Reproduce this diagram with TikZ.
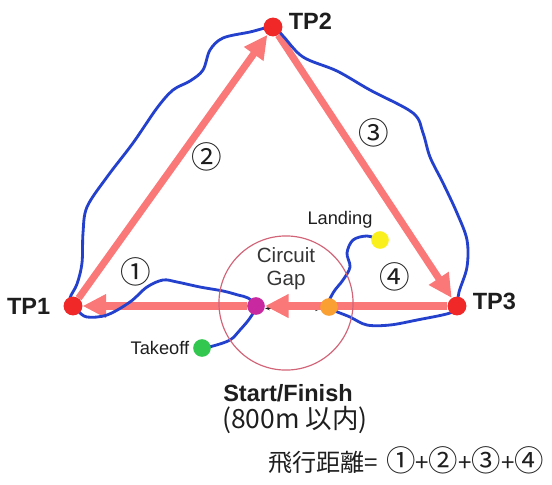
\documentclass[tikz,border=0pt]{standalone}
\usepackage{fontspec}
\setmainfont{Liberation Sans}
\newfontfamily\jpfont{Noto Sans CJK JP}
\usetikzlibrary{arrows.meta,positioning,backgrounds}
\definecolor{legpink}{RGB}{250,120,120}
\definecolor{trackblue}{RGB}{35,65,205}
\definecolor{tpred}{RGB}{240,40,40}
\definecolor{gatemag}{RGB}{200,40,160}
\definecolor{gateorange}{RGB}{250,160,50}
\definecolor{tkgreen}{RGB}{50,200,80}
\definecolor{ldyellow}{RGB}{250,240,30}
\definecolor{gapline}{RGB}{210,100,120}
\definecolor{ink}{RGB}{30,30,30}
\newcommand{\cnum}[1]{{\fontsize{25}{22}\selectfont#1}}

\begin{document}
\begin{tikzpicture}[x=0.85pt,y=-0.85pt,
		tp/.style={circle,fill=tpred,inner sep=0pt,minimum size=16pt},
		dot/.style={circle,inner sep=0pt,minimum size=15pt},
		tplabel/.style={inner sep=0pt,text=ink,font=\fontsize{20}{22}\selectfont\bfseries},
		small/.style={inner sep=0pt,text=ink,font=\fontsize{15.5}{17}\selectfont},
		num/.style={inner sep=0pt,text=ink,font=\jpfont\fontsize{26}{26}\selectfont},
		leg/.style={draw=legpink,line width=6pt,-{Triangle[length=20pt,width=19pt]}},
		track/.style={draw=trackblue,line width=2.4pt,line join=round,line cap=round}]
		\useasboundingbox (0,0) rectangle (552,484);

		\draw (286,303) node [circle,draw=gapline,line width=1pt,minimum size=114pt] (gap){};
		\draw (73,306) node [tp] (tp1){};
		\draw (273,27) node [tp] (tp2){};
		\draw (457,306) node [tp] (tp3){};
		\draw (256,306) node [dot,fill=gatemag] (start){};
		\draw (329,307) node [dot,fill=gateorange] (finish){};
		\draw (202,348) node [dot,fill=tkgreen] (takeoff){};
		\draw (380,240) node [dot,fill=ldyellow] (landing){};

		\node [tplabel,left=11pt of tp1] (tp1label){TP1};
		\node [tplabel,right=5pt of tp2,yshift=5pt] (tp2label){TP2};
		\node [tplabel,right=5pt of tp3,yshift=4pt] (tp3label){TP3};
		\node [small,left=3pt of takeoff] (takeofflabel){Takeoff};
		\draw (340,220) node [small] (landinglabel){Landing};
		\draw (286,269) node [align=center,text=ink!90,font=\fontsize{17.5}{19.5}\selectfont] (gaplabel){Circuit\\Gap};
		\draw (288,393) node [inner sep=0pt,text=ink,font=\fontsize{20}{22}\selectfont\bfseries] (sflabel){Start/Finish};
		\draw (295,420) node [inner sep=0pt,text=ink,font=\jpfont\fontsize{22.5}{24}\selectfont] (limit){(800m 以内)};

		\draw (136,272) node [num] (n1){①};
		\draw (207,157) node [num] (n2){②};
		\draw (374,133) node [num] (n3){③};
		\draw (395,277) node [num] (n4){④};
		\draw (406,460) node [num,font=\jpfont\fontsize{20.5}{22}\selectfont] (total){飛行距離=\hspace{7pt}\cnum{①}+\cnum{②}+\cnum{③}+\cnum{④}};

		\begin{scope}[on background layer]
		\draw [ink,line width=0.6pt,{Stealth[length=4pt]}-{Stealth[length=4pt]}]
			([yshift=-2pt]start.east) -- ([yshift=-2pt]finish.west);
		\draw
		(tp1) edge [leg] (tp2)
		(tp2) edge [leg] (tp3)
		(tp3) edge [leg] (start)
		(start) edge [leg] (tp1);
		\draw [track] plot [smooth,tension=0.55] coordinates {
			(takeoff) (213,346) (230,340) (240,330) (250,318) (start)
			(248,298) (238,295) (223,291) (200,287) (177,282) (163,280)
			(147,287) (130,302) (107,315) (87,317) (78,311) (tp1)
			(70,298) (77,284) (82,263) (83,233) (87,207) (107,177)
			(133,143) (157,108) (173,90) (190,81) (203,70) (210,50)
			(223,38) (250,32) (tp2) (283,36) (303,57) (337,71) (370,90)
			(413,113) (423,133) (430,157) (443,183) (457,213) (467,240)
			(467,267) (459,292) (tp3) (450,313) (417,320) (390,325)
			(367,325) (350,317) (finish) (333,293) (343,280) (350,267)
			(347,253) (353,240) (367,236) (landing)};
		\end{scope}
	\end{tikzpicture}
\end{document}
